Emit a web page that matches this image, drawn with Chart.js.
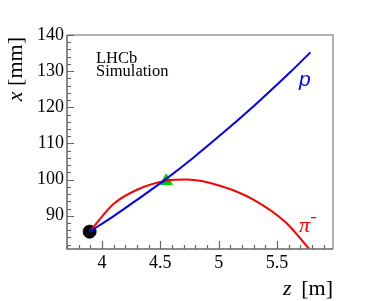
<!DOCTYPE html>
<html>
<head>
<meta charset="utf-8">
<script src="https://cdn.jsdelivr.net/npm/chart.js@4"></script>
<style>
  body { margin: 0; background: #fff; }
  canvas { display: block; }
</style>
</head>
<body>
<canvas id="myChart" width="374" height="301"></canvas>
<script>
// track points (z in m, x in mm)
const protonZ = [3.894, 4.1, 4.3, 4.55, 4.78, 5.04, 5.33, 5.61, 5.786];
const protonX = [85.6, 89.9, 94.4, 100.2, 106.0, 113.0, 121.2, 129.6, 135.2];
const pionZ = [3.894, 4.1, 4.3, 4.55, 4.73, 5.01, 5.3, 5.58, 5.775];
const pionX = [85.6, 93.3, 97.2, 99.7, 100.0, 98.3, 94.4, 88.0, 80.8];
const originPt = [3.894, 85.6];
const vertexPt = [4.55, 99.6];

const zRange = [3.7, 5.98];
const xRange = [80.8, 140];

const serif = 'Liberation Serif';
Chart.defaults.font.family = serif;

function toXY(zs, xs) {
    return zs.map((z, i) => ({ x: z, y: xs[i] }));
}

function isMajor(v, step) {
    const r = v / step;
    return Math.abs(r - Math.round(r)) < 1e-6;
}

// frame, inward ticks, labels and axis titles
const decor = {
    id: 'decor',
    afterDraw(chart) {
        const c = chart.ctx;
        const a = chart.chartArea;
        const sx = chart.scales.x, sy = chart.scales.y;
        c.save();

        c.strokeStyle = '#9a9a9a';
        c.lineWidth = 1.5;
        c.beginPath();
        c.moveTo(a.left, a.top);
        c.lineTo(a.right, a.top);
        c.lineTo(a.right, a.bottom);
        c.stroke();

        c.strokeStyle = '#666';
        c.beginPath();
        c.moveTo(a.left, a.top);
        c.lineTo(a.left, a.bottom);
        c.lineTo(a.right, a.bottom);
        c.stroke();

        c.lineWidth = 1.2;
        c.beginPath();
        sx.ticks.forEach(t => {
            const px = Math.round(sx.getPixelForValue(t.value)) + 0.5;
            const len = isMajor(t.value, 0.5) ? 8 : 4;
            c.moveTo(px, a.bottom);
            c.lineTo(px, a.bottom - len);
        });
        sy.ticks.forEach(t => {
            const py = Math.round(sy.getPixelForValue(t.value)) + 0.5;
            const len = isMajor(t.value, 10) ? 7 : 4;
            c.moveTo(a.left, py);
            c.lineTo(a.left + len, py);
        });
        c.stroke();

        // LHCb label
        c.fillStyle = '#000';
        c.font = '16.5px "' + serif + '"';
        c.textAlign = 'left';
        c.textBaseline = 'alphabetic';
        c.fillText('LHCb', 96, 63);
        c.fillText('Simulation', 96, 76);

        // curve labels
        c.font = 'italic 21px "Liberation Sans", sans-serif';
        c.fillStyle = '#0000ff';
        c.fillText('p', 299, 86);
        c.font = 'italic 22px "' + serif + '"';
        c.fillStyle = '#ff0000';
        c.fillText('\u03c0', 299, 232);
        c.fillRect(311, 217, 5, 1.3);

        // x axis title
        c.fillStyle = '#000';
        const it = 'italic 22px "' + serif + '"', rm = '22px "' + serif + '"';
        c.font = it;
        c.fillText('z', 283, 295);
        c.font = rm;
        c.textAlign = 'right';
        c.fillText('[m]', a.right, 295);
        c.textAlign = 'left';

        // y axis title
        c.translate(22, a.top + 2);
        c.rotate(-Math.PI / 2);
        c.font = rm;
        const wMM = c.measureText(' [mm]').width;
        c.font = it;
        const wX = c.measureText('x').width;
        const start = -(wX + wMM);
        c.fillText('x', start, 0);
        c.font = rm;
        c.fillText(' [mm]', start + wX, 0);
        c.restore();
    }
};

new Chart(document.getElementById('myChart'), {
    type: 'scatter',
    data: {
        datasets: [{
            label: 'p',
            data: toXY(protonZ, protonX),
            showLine: true,
            borderColor: '#0000ff',
            borderWidth: 2,
            pointRadius: 0,
            cubicInterpolationMode: 'monotone'
        }, {
            label: 'pi-',
            data: toXY(pionZ, pionX),
            showLine: true,
            borderColor: '#ff0000',
            borderWidth: 2,
            pointRadius: 0,
            cubicInterpolationMode: 'monotone'
        }, {
            label: 'vertex',
            data: [{ x: vertexPt[0], y: vertexPt[1] }],
            pointStyle: 'triangle',
            pointRadius: 7,
            backgroundColor: '#00c800',
            borderColor: '#00c800'
        }, {
            label: 'origin',
            data: [{ x: originPt[0], y: originPt[1] }],
            pointRadius: 6.5,
            backgroundColor: '#000',
            borderColor: '#000'
        }]
    },
    options: {
        responsive: false,
        animation: false,
        layout: { padding: { left: 0, top: 35, right: 41, bottom: 0 } },
        plugins: { legend: { display: false }, tooltip: { enabled: false } },
        scales: {
            x: {
                type: 'linear',
                min: zRange[0],
                max: zRange[1],
                afterFit: s => { s.height = 52; },
                grid: { display: false, drawTicks: false },
                border: { display: false },
                ticks: {
                    stepSize: 0.1,
                    includeBounds: false,
                    autoSkip: false,
                    maxRotation: 0,
                    maxTicksLimit: 100,
                    padding: 3,
                    color: '#000',
                    font: { family: serif, size: 18 },
                    callback: v => isMajor(v, 0.5) ? String(Math.round(v * 10) / 10) : ''
                }
            },
            y: {
                min: xRange[0],
                max: xRange[1],
                afterFit: s => { s.width = 67; },
                grid: { display: false, drawTicks: false },
                border: { display: false },
                ticks: {
                    stepSize: 2,
                    includeBounds: false,
                    autoSkip: false,
                    maxTicksLimit: 100,
                    padding: 3,
                    color: '#000',
                    font: { family: serif, size: 18 },
                    callback: v => isMajor(v, 10) ? String(Math.round(v)) : ''
                }
            }
        }
    },
    plugins: [decor]
});
</script>
</body>
</html>
